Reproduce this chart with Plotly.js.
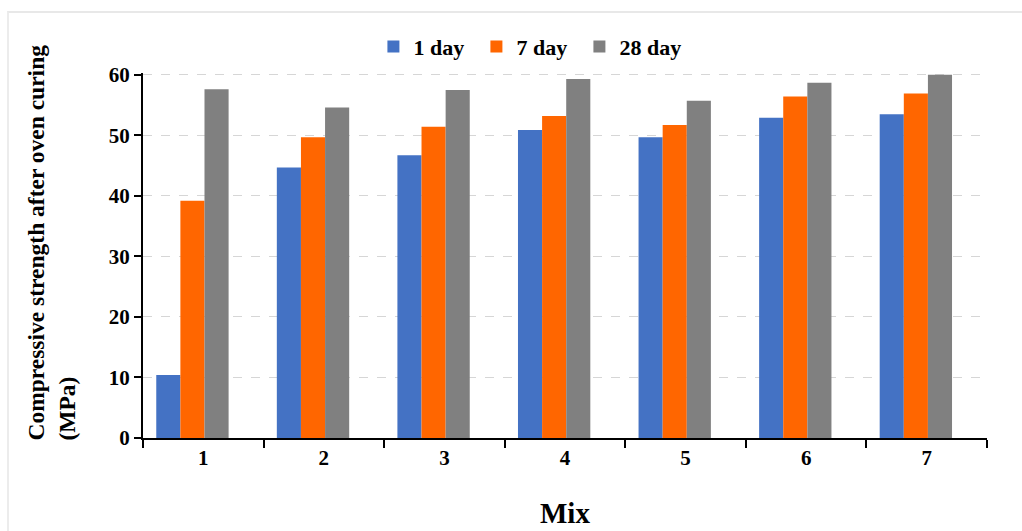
<!DOCTYPE html>
<html>
<head>
<meta charset="utf-8">
<script src="https://cdn.plot.ly/plotly-3.0.1.min.js"></script>
<style>
  html, body { margin: 0; padding: 0; background: #ffffff; }
  #frame { position: absolute; left: 7px; top: 11px; width: 1015px; height: 520px;
           border-top: 2px solid #e8e8e8; border-left: 2px solid #ececec; box-sizing: border-box; }
  #chart { position: absolute; left: 0; top: 0; width: 1022px; height: 531px; }
</style>
</head>
<body>
<div id="frame"></div>
<div id="chart"></div>
<script>
// Data
const mixes = ['1', '2', '3', '4', '5', '6', '7'];
const day1 = [10.4, 44.7, 46.7, 50.9, 49.7, 52.9, 53.5];
const day7 = [39.2, 49.7, 51.4, 53.2, 51.7, 56.4, 56.9];
const day28 = [57.6, 54.6, 57.5, 59.3, 55.7, 58.7, 60.0];
const seriesNames = ['1 day', '7 day', '28 day'];
const seriesColors = ['#4472C4', '#FF6600', '#808080'];
const yTicks = [0, 10, 20, 30, 40, 50, 60];

const serif = 'Liberation Serif, Times New Roman, serif';
const series = [day1, day7, day28];
const offsets = [-0.39, -0.19, 0.01];

const traces = series.map((vals, i) => ({
  type: 'bar',
  name: seriesNames[i],
  x: mixes,
  y: vals,
  width: 0.2,
  offset: offsets[i],
  marker: { color: seriesColors[i], line: { width: 0 } },
  hoverinfo: 'x+y+name'
}));

const layout = {
  width: 1022,
  height: 531,
  margin: { l: 143, r: 35, t: 73, b: 93 },
  paper_bgcolor: 'rgba(0,0,0,0)',
  plot_bgcolor: 'rgba(0,0,0,0)',
  barmode: 'group',
  font: { family: serif, color: '#000000' },
  showlegend: true,
  legend: {
    orientation: 'h',
    x: 0.273, xanchor: 'left',
    y: 1.072, yanchor: 'middle',
    font: { family: serif, size: 22, weight: 'bold', color: '#000' },
    bgcolor: 'rgba(0,0,0,0)',
    itemwidth: 30,
    entrywidth: 58,
    traceorder: 'normal'
  },
  xaxis: {
    type: 'category',
    range: [-0.5, 6.5],
    showline: true, linecolor: '#000', linewidth: 2,
    ticks: 'outside', tickson: 'boundaries', ticklen: 8, tickwidth: 2, tickcolor: '#000',
    tickfont: { family: serif, size: 21, weight: 'bold', color: '#000' },
    showgrid: false, zeroline: false,
    fixedrange: true
  },
  yaxis: {
    range: [0, 60.3],
    tickvals: yTicks,
    ticktext: yTicks.map(String),
    showline: true, linecolor: '#000', linewidth: 2,
    ticks: 'outside', ticklen: 7, tickwidth: 2, tickcolor: '#000',
    tickfont: { family: serif, size: 21, weight: 'bold', color: '#000' },
    showgrid: true, gridcolor: '#d6d6d6', gridwidth: 1, griddash: 'dash',
    zeroline: false,
    fixedrange: true
  },
  annotations: [
    {
      text: 'Compressive strength after oven curing<br>(MPa)',
      xref: 'paper', yref: 'paper',
      x: -0.108, y: 0.535,
      xanchor: 'center', yanchor: 'middle',
      textangle: -90, align: 'left',
      showarrow: false,
      font: { family: serif, size: 23.5, weight: 'bold', color: '#000' }
    },
    {
      text: 'Mix',
      xref: 'paper', yref: 'paper',
      x: 0.5, y: -0.205,
      xanchor: 'center', yanchor: 'middle',
      showarrow: false,
      font: { family: serif, size: 29, weight: 'bold', color: '#000' }
    }
  ]
};

Plotly.newPlot('chart', traces, layout, { displayModeBar: false, staticPlot: false });
</script>
</body>
</html>
